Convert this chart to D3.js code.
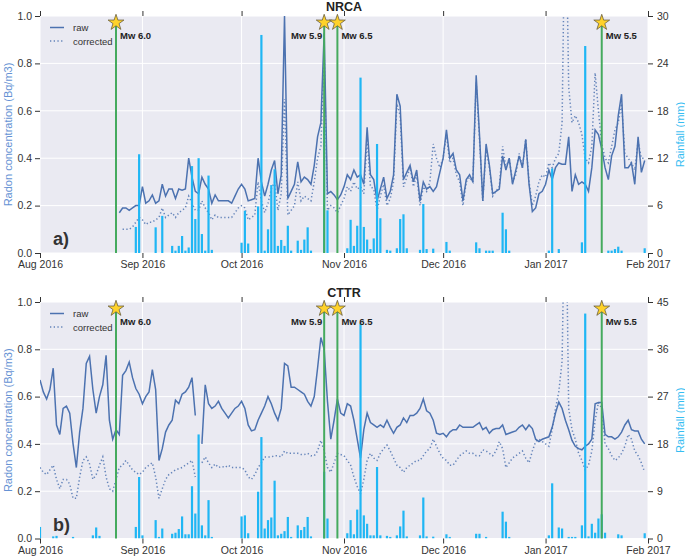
<!DOCTYPE html>
<html><head><meta charset="utf-8">
<script src="https://cdn.jsdelivr.net/npm/d3@7"></script>
<style>body{margin:0;background:#fff}svg{display:block}text{font-family:"Liberation Sans",Arial,sans-serif}</style>
</head><body><svg id="c" width="685" height="559"></svg>
<script>
// ---------------- DATA ----------------
const monthTicks = ["2016-08-01","2016-09-01","2016-10-01","2016-11-01","2016-12-01","2017-01-01","2017-02-01"];
const monthLabels = ["Aug 2016","Sep 2016","Oct 2016","Nov 2016","Dec 2016","Jan 2017","Feb 2017"];
const quakeDates = ["2016-08-24","2016-10-26","2016-10-30","2017-01-18"];
const quakeLabels = ["Mw 6.0","Mw 5.9","Mw 6.5","Mw 5.5"];
const radonTicks = [0,0.2,0.4,0.6,0.8,1.0];
const nrcaRainTicks = [0,6,12,18,24,30];
const cttrRainTicks = [0,9,18,27,36,45];

// daily radon values (Bq/m3); first value is at day offset *Start from 1 Aug 2016
const nrcaRawStart = 24;
const nrcaRaw = [0.17,0.19,0.19,0.18,0.19,0.20,0.20,
 0.28,0.21,0.22,0.245,0.21,0.22,0.29,0.24,0.27,0.27,
 0.23,0.27,0.265,0.27,0.40,0.32,0.26,0.25,0.32,0.29,
 0.27,0.21,0.245,0.22,0.22,0.22,0.22,0.21,0.24,0.27,
 0.29,0.27,0.22,0.225,0.23,0.40,0.30,0.24,0.29,0.35,
 0.39,0.25,0.33,1.0,0.23,0.26,0.29,0.385,0.30,0.32,
 0.31,0.29,0.37,0.49,0.55,0.93,0.25,0.26,0.245,0.225,
 0.245,0.28,0.33,0.31,0.35,0.32,0.33,0.29,0.53,0.33,
 0.31,0.22,0.27,0.32,0.23,0.26,0.33,0.67,0.62,0.31,
 0.34,0.37,0.30,0.35,0.22,0.30,0.27,0.28,0.26,0.28,
 0.34,0.40,0.52,0.40,0.42,0.35,0.33,0.22,0.31,0.33,
 0.30,0.75,0.50,0.22,0.46,0.37,0.25,0.26,0.27,0.41,
 0.35,0.40,0.29,0.35,0.41,0.36,0.48,0.29,0.175,0.19,
 0.25,0.26,0.29,0.35,0.31,0.36,0.38,0.375,0.375,0.49,
 0.26,0.33,0.29,0.30,0.29,0.26,0.36,0.52,0.50,0.44,
 0.36,0.31,0.41,0.45,0.58,0.67,0.36,0.36,0.38,0.29,
 0.49,0.34,0.39];
const nrcaCorrStart = 25;
const nrcaCorr = [0.10,0.10,0.10,0.11,0.13,0.15,
 0.14,0.12,0.13,0.13,0.14,0.15,0.19,0.15,0.16,0.17,
 0.15,0.17,0.18,0.19,0.24,0.21,0.18,0.18,0.22,0.19,
 0.17,0.14,0.16,0.15,0.15,0.15,0.15,0.15,0.17,0.19,
 0.20,0.19,0.14,0.15,0.16,0.30,0.22,0.17,0.21,0.27,
 0.30,0.18,0.25,0.65,0.16,0.18,0.20,0.30,0.22,0.24,
 0.23,0.22,0.30,0.40,0.45,0.85,0.18,0.20,0.19,0.17,
 0.20,0.23,0.28,0.26,0.30,0.27,0.28,0.25,0.48,0.28,
 0.27,0.18,0.24,0.29,0.20,0.23,0.30,0.63,0.58,0.28,
 0.32,0.36,0.28,0.33,0.20,0.28,0.26,0.30,0.46,0.40,
 0.36,0.40,0.50,0.38,0.40,0.33,0.30,0.20,0.30,0.32,
 0.30,0.72,0.48,0.22,0.44,0.36,0.24,0.26,0.28,0.45,
 0.36,0.40,0.30,0.33,0.42,0.36,0.48,0.30,0.20,0.24,
 0.30,0.33,0.32,0.38,0.36,0.40,0.42,0.55,1.6,0.70,
 0.55,0.58,0.55,0.50,0.40,0.38,0.45,0.76,0.60,0.46,
 0.40,0.38,0.45,0.52,0.55,0.63,0.42,0.40,0.38,0.35,
 0.47,0.40,0.40];
const nrcaRainDay = [29,30,35,37,40,41,42,43,44,45,46,47,48,49,50,51,52,
 61,62,63,66,67,68,69,70,71,72,73,74,75,76,78,79,80,81,82,
 86,87,93,94,95,96,97,98,99,100,101,102,103,105,106,108,109,110,111,
 115,116,117,119,123,124,132,133,135,136,137,140,141,142,154,155,157,164,165,172,173,174,175,176,183];
const nrcaRainMm = [3.3,12.5,3.25,4.7,0.9,0.3,0.9,2.15,0.3,0.7,11.0,4.3,12.0,2.4,0.3,9.8,0.4,
 1.3,5.35,1.2,5.9,27.6,0.3,3.0,8.6,10.6,0.9,1.65,0.9,3.45,0.3,1.56,0.4,1.7,3.25,0.3,
 16,5.4,0.6,4.2,0.9,3.45,22.2,3.3,1.7,0.5,1.85,13.8,4.4,0.4,0.3,0.6,4.3,4.9,0.6,
 0.4,6.2,0.5,0.55,1.4,0.3,1.35,0.6,0.3,0.3,0.3,5.1,3.0,0.3,0.3,10.7,0.5,1.35,26.2,0.3,0.3,0.5,0.8,0.3,0.6];

const cttrRawStart = 0;
const cttrRaw = [0.67,0.62,0.59,0.63,0.72,0.48,0.44,0.55,0.56,0.53,
 0.40,0.30,0.45,0.55,0.74,0.77,0.63,0.53,0.60,0.65,
 0.775,0.50,0.42,0.46,0.44,0.69,0.71,0.746,0.68,0.634,
 0.61,0.57,0.60,0.62,0.714,0.63,0.33,0.38,0.45,0.48,
 0.50,0.585,0.57,0.61,0.62,0.64,0.68,0.52,null,0.40,
 0.65,0.57,0.55,0.56,0.58,0.55,0.53,0.51,0.53,0.55,0.56,
 0.58,0.55,0.48,0.455,0.46,0.50,0.53,0.56,0.60,0.57,
 0.53,0.50,0.55,0.74,0.73,0.64,0.64,0.63,0.62,0.61,
 0.58,0.56,0.60,0.72,0.85,0.80,0.58,0.42,0.50,0.59,
 0.53,0.52,0.57,0.56,0.50,0.42,0.34,0.46,0.53,0.49,
 0.48,0.47,0.48,0.47,0.50,0.47,0.445,0.47,0.48,0.51,
 0.49,0.52,0.52,0.53,0.55,0.59,0.54,0.53,0.50,0.445,
 0.44,0.445,0.43,0.45,0.46,0.46,0.48,0.47,0.47,0.47,
 0.47,0.48,0.49,0.46,0.47,0.445,0.46,0.465,0.465,0.48,
 0.44,0.445,0.45,0.455,0.47,0.48,0.46,0.48,0.465,0.42,
 0.41,0.42,0.425,0.43,0.47,0.53,0.577,0.55,0.50,0.46,
 0.415,0.39,0.38,0.375,0.39,0.40,0.42,0.57,0.575,0.575,
 0.44,0.43,0.43,0.42,0.43,0.45,0.48,0.50,0.46,0.455,
 0.455,0.42,0.40];
const cttrCorrStart = 0;
const cttrCorr = [0.30,0.28,0.27,0.29,0.31,0.25,0.21,0.25,0.25,0.23,
 0.17,0.17,0.26,0.33,0.345,0.315,0.25,0.27,0.31,0.345,
 0.26,0.21,0.20,0.25,0.30,0.31,0.33,0.31,0.29,0.28,
 0.27,0.28,0.30,0.31,0.32,0.26,0.17,0.21,0.25,0.27,
 0.28,0.29,0.295,0.30,0.31,0.32,0.33,0.26,null,0.32,
 0.345,0.32,0.30,0.315,0.30,0.305,0.30,0.31,0.30,0.30,0.30,
 0.30,0.29,0.26,0.25,0.27,0.30,0.32,0.345,0.345,0.345,
 0.35,0.35,0.345,0.37,0.36,0.36,0.36,0.36,0.355,0.355,
 0.36,0.35,0.35,0.37,0.415,0.37,0.30,0.28,0.32,0.36,
 0.355,0.35,0.33,0.31,0.26,0.22,0.19,0.25,0.33,0.36,
 0.34,0.33,0.36,0.38,0.395,0.37,0.34,0.31,0.30,0.28,
 0.30,0.31,0.32,0.33,0.33,0.35,0.37,0.38,0.42,0.39,
 0.36,0.34,0.33,0.31,0.31,0.33,0.35,0.36,0.37,0.36,
 0.36,0.35,0.35,0.375,0.37,0.36,0.35,0.37,0.41,0.38,
 0.30,0.32,0.34,0.35,0.36,0.37,0.34,0.32,0.37,0.41,
 0.42,0.41,0.40,0.39,0.46,0.55,0.62,0.75,1.6,0.55,
 0.46,0.42,0.36,0.33,0.29,0.31,0.37,0.50,0.575,0.55,
 0.40,0.38,0.35,0.33,0.34,0.36,0.39,0.44,0.42,0.37,
 0.35,0.32,0.28];
const cttrRainDay = [0,4,5,10,16,17,18,29,30,31,35,36,37,40,41,42,43,44,45,46,47,48,49,50,51,52,
 61,62,63,66,67,68,69,70,71,72,73,74,75,76,78,79,80,81,82,
 86,87,93,94,95,96,97,98,99,100,101,102,103,105,106,108,109,110,111,
 115,116,117,119,123,124,132,133,135,140,141,142,154,155,157,158,160,161,162,164,165,166,167,168,169,170,171,175,176,183];
const cttrRainMm = [2.2,0.4,0.5,0.3,0.6,2.1,0.5,2.2,11.7,0.6,3.5,0.3,1.9,0.9,1.1,1.8,4.2,0.8,0.8,9.95,4.75,19.8,2.5,0.6,7.3,0.3,
 4.2,4.4,1.0,8.9,19.3,1.9,3.5,4.0,11.0,0.6,0.9,1.4,4.1,0.3,2.5,1.6,2.2,4.1,0.4,
 12.7,3.8,1.0,3.5,0.8,5.5,40.9,4.4,2.8,0.6,0.6,13.6,0.6,0.5,0.3,0.6,2.3,5.3,0.4,
 0.6,7.8,0.4,0.35,0.8,0.3,0.9,0.9,0.3,5.1,3.2,0.3,0.6,10.5,2.1,1.9,0.3,0.3,0.3,2.5,42.8,0.4,2.8,1.1,3.8,4.6,1.1,0.8,0.6,1.0];

// ---------------- DRAW ----------------
const parse = d3.timeParse("%Y-%m-%d");
const origin = parse("2016-08-01");
const day = n => d3.timeDay.offset(origin, n);
const svg = d3.select("#c");
const L = 40, R = 648;
const x = d3.scaleTime().domain([parse(monthTicks[0]), parse(monthTicks[6])]).range([L, R]);
const BLUE = "#4C72B0", RAIN = "#1fb6f4", GREEN = "#45aa5e", TXT = "#333";

const panels = [
 {title:"NRCA", top:16, bottom:253, raw:nrcaRaw, rawStart:nrcaRawStart, corr:nrcaCorr, corrStart:nrcaCorrStart,
  rainDay:nrcaRainDay, rainMm:nrcaRainMm, rainTicks:nrcaRainTicks, tag:"a)"},
 {title:"CTTR", top:302, bottom:538.5, raw:cttrRaw, rawStart:cttrRawStart, corr:cttrCorr, corrStart:cttrCorrStart,
  rainDay:cttrRainDay, rainMm:cttrRainMm, rainTicks:cttrRainTicks, tag:"b)"}
];

panels.forEach((p, pi) => {
  const y = d3.scaleLinear().domain([0, 1]).range([p.bottom, p.top]);
  const yr = d3.scaleLinear().domain([0, p.rainTicks[p.rainTicks.length-1]]).range([p.bottom, p.top]);
  const g = svg.append("g");
  const cid = "clip" + pi;
  svg.append("defs").append("clipPath").attr("id", cid).append("rect")
    .attr("x", L).attr("y", p.top).attr("width", R - L).attr("height", p.bottom - p.top);

  g.append("rect").attr("x", L).attr("y", p.top).attr("width", R - L).attr("height", p.bottom - p.top).attr("fill", "#EAEAF2");
  g.selectAll(".hg").data(radonTicks).join("line").attr("class","hg")
    .attr("x1", L).attr("x2", R).attr("y1", d => y(d)).attr("y2", d => y(d)).attr("stroke", "#fff").attr("stroke-width", 1);
  g.selectAll(".vg").data(monthTicks.map(parse)).join("line").attr("class","vg")
    .attr("x1", d => x(d)).attr("x2", d => x(d)).attr("y1", p.top).attr("y2", p.bottom).attr("stroke", "#fff").attr("stroke-width", 1);

  const plot = g.append("g").attr("clip-path", `url(#${cid})`);
  const line = d3.line().defined(d => d.v != null).x(d => x(d.d)).y(d => y(d.v));
  const rawPts = p.raw.map((v, i) => ({d: day(p.rawStart + i), v}));
  const corrPts = p.corr.map((v, i) => ({d: day(p.corrStart + i), v}));
  plot.append("path").datum(corrPts).attr("d", line).attr("fill", "none").attr("stroke", BLUE)
    .attr("stroke-width", 1.5).attr("stroke-dasharray", "1.3,2.4").attr("opacity", 0.85);
  plot.append("path").datum(rawPts).attr("d", line).attr("fill", "none").attr("stroke", BLUE).attr("stroke-width", 1.5);

  // rainfall bars
  const rain = p.rainDay.map((dd, i) => ({d: day(dd), mm: p.rainMm[i]}));
  plot.selectAll(".bar").data(rain).join("rect").attr("class","bar")
    .attr("x", d => x(d.d) - 1.1).attr("width", 2.2)
    .attr("y", d => yr(d.mm)).attr("height", d => p.bottom - yr(d.mm)).attr("fill", RAIN);

  // earthquakes
  const yStar = y(0.972);
  quakeDates.forEach((qd, i) => {
    const qx = x(parse(qd));
    g.append("line").attr("x1", qx).attr("x2", qx).attr("y1", p.bottom).attr("y2", yStar)
      .attr("stroke", GREEN).attr("stroke-width", 2);
    g.append("path").attr("d", d3.symbol(d3.symbolStar, 78)()).attr("transform", `translate(${qx},${yStar})`)
      .attr("fill", "#FFD22A").attr("stroke", "#6a6040").attr("stroke-width", 0.8);
    const left = quakeLabels[i] === "Mw 5.9";
    g.append("text").attr("x", left ? qx - 2 : qx + 4).attr("y", yStar + 16)
      .attr("text-anchor", left ? "end" : "start").attr("font-size", 9.5).attr("font-weight", "bold")
      .attr("fill", "#222").text(quakeLabels[i]);
  });

  // axes
  const styleAxis = a => {
    a.select(".domain").remove();
    a.attr("font-family", '"Liberation Sans",Arial,sans-serif').attr("font-size", 10.5);
    a.selectAll("line").attr("stroke", TXT);
    a.selectAll("text").attr("fill", TXT);
  };
  styleAxis(g.append("g").attr("transform", `translate(${L},0)`)
    .call(d3.axisLeft(y).tickValues(radonTicks).tickFormat(d3.format(".1f")).tickSize(5).tickPadding(3)));
  styleAxis(g.append("g").attr("transform", `translate(${R},0)`)
    .call(d3.axisRight(yr).tickValues(p.rainTicks).tickFormat(d3.format("d")).tickSize(5).tickPadding(4)));
  styleAxis(g.append("g").attr("transform", `translate(0,${p.bottom})`)
    .call(d3.axisBottom(x).tickValues(monthTicks.map(parse)).tickFormat((d, i) => monthLabels[i]).tickSize(5).tickPadding(3)));
  styleAxis(g.append("g").attr("transform", `translate(0,${p.top})`)
    .call(d3.axisTop(x).tickValues(monthTicks.map(parse)).tickFormat("").tickSize(5)));

  // legend
  const ly1 = p.top + 11.5, ly2 = p.top + 25;
  g.append("line").attr("x1", 50).attr("x2", 64).attr("y1", ly1).attr("y2", ly1).attr("stroke", BLUE).attr("stroke-width", 1.5);
  g.append("line").attr("x1", 50).attr("x2", 64).attr("y1", ly2).attr("y2", ly2).attr("stroke", BLUE)
    .attr("stroke-width", 1.5).attr("stroke-dasharray", "1.3,2.4").attr("opacity", 0.85);
  g.append("text").attr("x", 73).attr("y", ly1 + 3.5).attr("font-size", 9.5).attr("fill", TXT).text("raw");
  g.append("text").attr("x", 73).attr("y", ly2 + 3.5).attr("font-size", 9.5).attr("fill", TXT).text("corrected");

  // titles and labels
  g.append("text").attr("x", (L + R) / 2).attr("y", p.top - 5).attr("text-anchor", "middle")
    .attr("font-size", 12.5).attr("font-weight", "bold").attr("fill", "#222").text(p.title);
  g.append("text").attr("x", 53).attr("y", p.bottom - 8).attr("font-size", 18).attr("font-weight", "bold")
    .attr("fill", "#333").text(p.tag);
  const mid = (p.top + p.bottom) / 2;
  g.append("text").attr("transform", `translate(12,${mid}) rotate(-90)`).attr("text-anchor", "middle")
    .attr("font-size", 11).attr("fill", "#6592d4").text("Radon concentration (Bq/m3)");
  g.append("text").attr("transform", `translate(684,${mid}) rotate(-90)`).attr("text-anchor", "middle")
    .attr("font-size", 11).attr("fill", "#35bdf2").text("Rainfall (mm)");
});
</script>
</body></html>
